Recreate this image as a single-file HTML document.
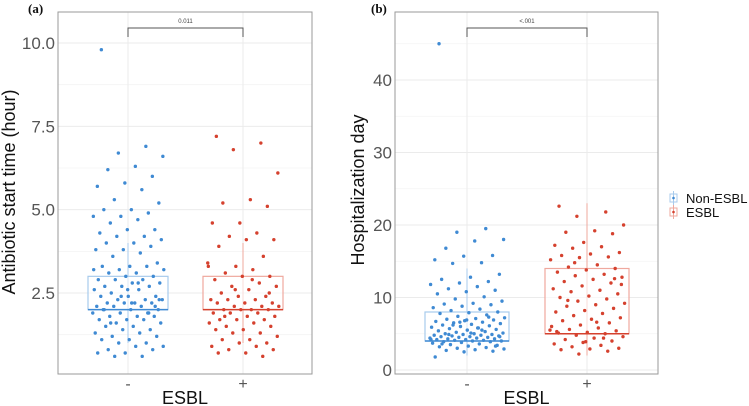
<!DOCTYPE html>
<html><head><meta charset="utf-8"><style>
html,body{margin:0;padding:0;background:#fff;}
svg{display:block;font-family:"Liberation Sans",sans-serif;}
</style></head><body>
<svg id="c" width="749" height="406" viewBox="0 0 749 406"></svg>
<script>
const categories=["-","+"];
const aTicks=[2.5,5.0,7.5,10.0];
const aTickLabels=["2.5","5.0","7.5","10.0"];
const bTicks=[0,10,20,30,40];
const bTickLabels=["0","10","20","30","40"];
// box stats: [lower whisker, q1, median, q3, upper whisker]
const aNegBox=[1.0,2.0,2.0,3.0,4.0];
const aPosBox=[1.0,2.0,2.0,3.0,4.0];
const bNegBox=[2,4,4,8,14];
const bPosBox=[2,5,5,14,23];
const aNegVals=[9.8,6.9,6.7,6.6,6.3,6.2,6.0,5.8,5.7,5.6,5.3,5.2,5.0,5.0,4.9,4.8,4.8,4.7,4.6,4.4,4.4,4.3,4.2,4.2,4.1,4.0,4.0,3.9,3.8,3.8,3.7,3.6,3.4,3.3,3.3,3.3,3.2,3.2,3.1,3.1,3.0,3.0,2.9,2.9,2.9,2.8,2.8,2.7,2.7,2.7,2.6,2.6,2.5,2.4,2.4,2.4,2.3,2.3,2.3,2.2,2.2,2.2,2.2,2.1,2.1,2.1,2.0,2.0,2.0,1.9,1.9,1.9,1.8,1.8,1.8,1.7,1.7,1.7,1.6,1.6,1.5,1.5,1.4,1.4,1.3,1.3,1.2,1.2,1.1,1.1,1.0,1.0,0.9,0.9,0.8,0.8,0.7,0.7,0.6,0.6,2.3,2.2,2.0,1.9,2.4,3.2,2.8,1.6,2.1,2.6];
const aPosVals=[7.2,7.0,6.8,6.1,5.3,5.2,5.1,4.6,4.6,4.3,4.2,4.1,4.1,3.9,3.6,3.3,3.3,3.2,3.1,3.0,3.0,2.9,2.8,2.7,2.7,2.6,2.5,2.4,2.4,2.3,2.3,2.3,2.2,2.2,2.2,2.1,2.1,2.1,2.0,2.0,2.0,2.0,1.9,1.9,1.9,1.8,1.8,1.7,1.7,1.7,1.6,1.6,1.5,1.5,1.4,1.4,1.3,1.3,1.2,1.1,1.1,1.0,1.0,0.9,0.9,0.8,0.8,0.7,0.7,0.6,2.6,3.4,2.9,1.8,2.5];
const bNegVals=[45,19.5,19,18,17.8,16.8,15.8,15.7,15.2,14.8,14.7,13.2,12.8,12.5,12.2,12,11.8,11.5,11.2,11,10.8,10.5,10.1,9.8,9.5,9.2,9.1,9.0,8.8,8.6,8.4,8.2,8.0,7.9,7.8,7.6,7.4,7.2,7.1,7.0,6.9,6.8,6.7,6.6,6.5,6.4,6.3,6.2,6.1,6.0,5.9,5.8,5.7,5.6,5.5,5.4,5.3,5.2,5.1,5.0,5.0,4.9,4.9,4.8,4.8,4.7,4.7,4.6,4.6,4.5,4.5,4.4,4.4,4.3,4.3,4.2,4.2,4.1,4.1,4.0,4.0,3.9,3.9,3.8,3.7,3.6,3.5,3.4,3.3,3.2,3.1,3.0,2.9,2.8,2.7,2.6,2.5,1.8,5.5,6.2,4.6,5.1,3.6,7.3,6.6,4.2,5.8,4.9,3.3,6.9];
const bPosVals=[22.6,21.8,21.2,20,19.2,19,18.8,17.6,17.2,17,16.8,16.2,16,15.8,15.6,15.5,15.2,14.5,14.2,14,13.8,13.5,13.2,13,12.8,12.5,12.2,12,11.6,11.2,11,10.8,10.5,10.2,10,9.8,9.5,9.2,9,8.8,8.5,8.2,8,7.8,7.5,7.2,7,6.8,6.5,6.2,6,5.8,5.6,5.4,5.2,5.1,5,4.8,4.6,4.4,4.2,4,3.8,3.6,3.4,3.2,3,2.9,2.8,2.6,2.2,5.5,6.6,9.6,12.6,3.9,5.3,4.4,14.8,11.8];

const NS="http://www.w3.org/2000/svg";
const svg=document.getElementById('c');
function mk(tag,attrs,parent,text){const e=document.createElementNS(NS,tag);for(const k in attrs)e.setAttribute(k,attrs[k]);if(text!==undefined)e.textContent=text;(parent||svg).appendChild(e);return e;}
const BLUE="#3f8ad3",RED="#d5412e",LBLUE="#a8cbec",LRED="#efa89e";

function panel(p){
  const g=mk('g',{});
  
  
  const y=v=>p.y0-(v-p.v0)*p.k;
  const x=i=>p.cx[i];
  for(let i=0;i<p.ticks.length;i++){
    const gl=mk('line',{x1:p.L,x2:p.R,y1:y(p.ticks[i]),y2:y(p.ticks[i]),stroke:"#ebebeb","stroke-width":1},g);
    
    
    const m=p.ticks[i]+p.step/2;const yy=y(m);
    if(yy>p.T){const ml=mk('line',{x1:p.L,x2:p.R,y1:yy,y2:yy,stroke:"#f4f4f4","stroke-width":0.8},g);}
    const y2=y(p.ticks[0]-p.step/2);
    if(i==0&&y2<p.B){const ml=mk('line',{x1:p.L,x2:p.R,y1:y2,y2:y2,stroke:"#f4f4f4","stroke-width":0.8},g);}
    const tl=mk('text',{x:p.L-3,y:y(p.ticks[i])+6,"text-anchor":"end","font-size":17,fill:"#555"},g,p.tickLabels[i]);
    
    
  }
  for(let i=0;i<2;i++){
    const vl=mk('line',{x1:x(i),x2:x(i),y1:p.T,y2:p.B,stroke:"#ebebeb","stroke-width":1},g);
    
    
    const xl=mk('text',{x:x(i),y:p.B+15,"text-anchor":"middle","font-size":16,fill:"#555"},g,categories[i]);
    
    
  }
  const boxes=[p.negBox,p.posBox],cols=[[BLUE,LBLUE],[RED,LRED]];
  for(let i=0;i<2;i++){
    const b=boxes[i],hw=p.hw;
    const w=mk('line',{x1:x(i),x2:x(i),y1:y(b[0]),y2:y(b[4]),stroke:cols[i][1],"stroke-width":1},g);
    
    
    const r=mk('rect',{x:x(i)-hw,y:y(b[3]),width:2*hw,height:y(b[1])-y(b[3]),fill:"#fff","fill-opacity":0.6,stroke:cols[i][1],"stroke-width":1.2},g);
    
    
    const md=mk('line',{x1:x(i)-hw,x2:x(i)+hw,y1:y(b[2]),y2:y(b[2]),stroke:cols[i][0],"stroke-width":1.5},g);
    
    
  }
  const sets=[p.negVals,p.posVals];
  for(let i=0;i<2;i++){
    sets[i].forEach((v,j)=>{
      const jit=(((j*0.6180339+0.13)%1)*2-1)*p.hw*0.9;
      const c=mk('circle',{cx:x(i)+jit,cy:y(v),r:1.7,fill:cols[i][0]},g);
      
      
    });
  }
  const fr=mk('rect',{x:p.L,y:p.T,width:p.R-p.L,height:p.B-p.T,fill:"none",stroke:"#9a9a9a","stroke-width":1},g);
  
  
  const br=mk('path',{d:`M${x(0)},${p.T+25} V${p.T+16} H${x(1)} V${p.T+25}`,fill:"none",stroke:"#555","stroke-width":1},g);
  
  
  const pv=mk('text',{x:(x(0)+x(1))/2,y:p.T+11,"text-anchor":"middle","font-size":6,fill:"#444"},g,p.pval);
  
  
  const xt=mk('text',{x:(p.L+p.R)/2,y:404,"text-anchor":"middle","font-size":18,fill:"#111"},g,"ESBL");
  
  
  const yt=mk('text',{x:0,y:0,"text-anchor":"middle","font-size":18,fill:"#111",transform:`translate(${p.ytx},${p.ytc}) rotate(-90)`},g,p.ytitle);
  
  
  const pl=mk('text',{x:p.lblx,y:13,"font-size":13,"font-weight":"bold","font-family":"Liberation Serif,serif",fill:"#111"},g,p.lbl);
  
  
}
panel({name:'panel-a',L:58,R:312,T:12,B:374,v0:2.5,y0:293,k:33.33,cx:[128,243],hw:40,ticks:aTicks,tickLabels:aTickLabels,step:2.5,negBox:aNegBox,posBox:aPosBox,negVals:aNegVals,posVals:aPosVals,pval:"0.011",ytitle:"Antibiotic start time (hour)",ytx:15,ytc:192,lbl:"(a)",lblx:28});
panel({name:'panel-b',L:395,R:658,T:12,B:374,v0:0,y0:370,k:7.25,cx:[467,587],hw:42,ticks:bTicks,tickLabels:bTickLabels,step:10,negBox:bNegBox,posBox:bPosBox,negVals:bNegVals,posVals:bPosVals,pval:"<.001",ytitle:"Hospitalization day",ytx:364,ytc:190,lbl:"(b)",lblx:371});
const lg=mk('g',{});


[["Non-ESBL",BLUE,LBLUE,198],["ESBL",RED,LRED,212]].forEach(d=>{
  const e=mk('g',{},lg);
  
  
  mk('rect',{x:670,y:d[3]-4,width:7,height:8,fill:"#fff",stroke:d[2],"stroke-width":1},e);
  mk('line',{x1:673.5,x2:673.5,y1:d[3]-7,y2:d[3]+7,stroke:d[2],"stroke-width":1},e);
  mk('circle',{cx:673.5,cy:d[3],r:1.3,fill:d[1]},e);
  mk('text',{x:686,y:d[3]+5,"font-size":13,fill:"#111"},e,d[0]);
});
</script>
</body></html>
